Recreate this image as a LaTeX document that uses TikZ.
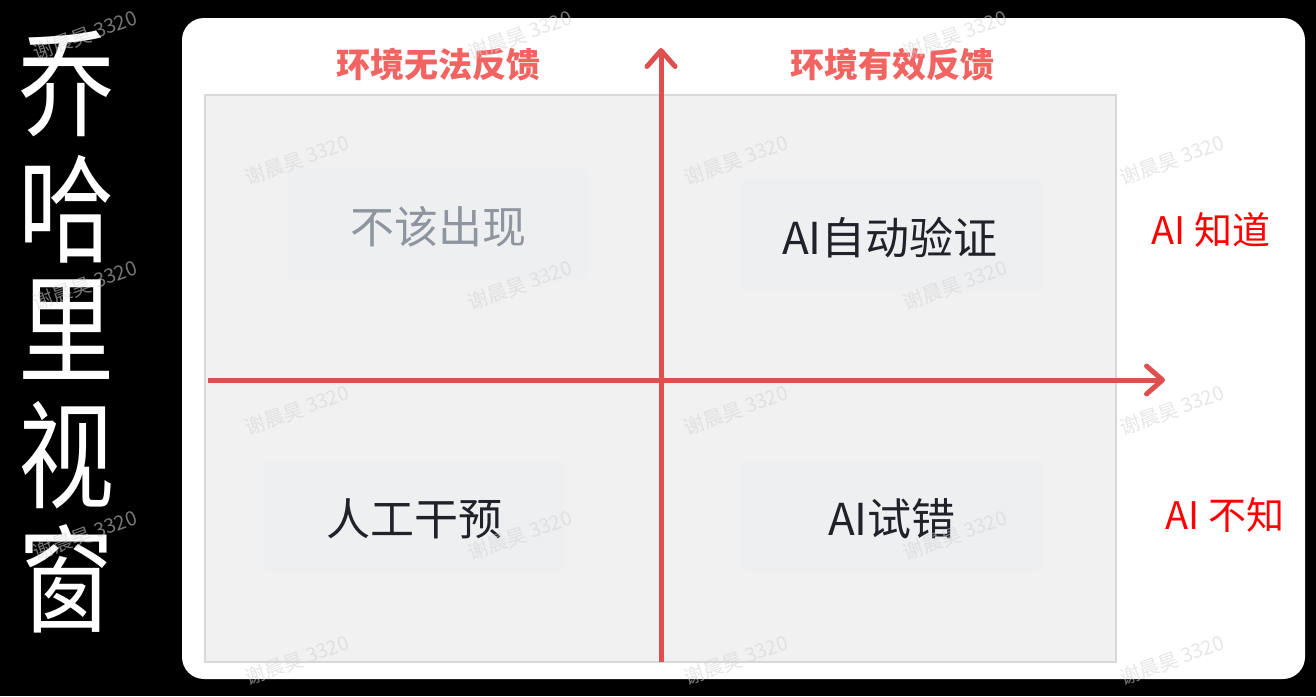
\documentclass[tikz,border=0pt]{standalone}
\usepackage{fontspec}
\usepackage{graphicx}
\newfontfamily\cjk{Noto Sans CJK SC}
\usetikzlibrary{arrows.meta}
\definecolor{axisred}{HTML}{DE5050}
\definecolor{headred}{HTML}{F26461}
\definecolor{labelred}{HTML}{FF0000}
\definecolor{panelgray}{HTML}{F1F1F1}
\definecolor{panelline}{HTML}{D8D8D8}
\definecolor{cellgray}{HTML}{EEEFF1}
\definecolor{inkdark}{HTML}{1F2329}
\definecolor{inkmuted}{HTML}{8F959E}
\definecolor{markgray}{HTML}{D4D4D4}
\newcommand{\tallglyph}[1]{\scalebox{1}[1.22]{#1}}
\tikzset{
  cell/.style={fill=cellgray, rounded corners=8pt, minimum width=300pt,
    minimum height=112pt, inner sep=0pt},
  celltext/.style={text=inkdark, inner sep=0pt,
    font=\cjk\fontsize{44}{44}\selectfont},
  header/.style={text=headred, inner sep=0pt, font=\cjk\bfseries\fontsize{34}{34}\selectfont},
  sidelabel/.style={text=labelred, inner sep=0pt, font=\cjk\fontsize{38}{38}\selectfont},
  titlechar/.style={text=white, inner sep=0pt, font=\cjk\fontsize{96}{96}\selectfont},
  stamp/.style={text=markgray, opacity=0.55, rotate=20, inner sep=0pt,
    font=\cjk\fontsize{20}{20}\selectfont},
  axis/.style={draw=axisred, line width=5pt,
    -{Straight Barb[length=16pt, width=28pt, line width=5pt, round]}}
}
\begin{document}
\begin{tikzpicture}[x=1pt, y=-1pt]
  % page and card
  \useasboundingbox (0,0) rectangle (1316,696);
  \fill[black] (0,0) rectangle (1316,696);
  \fill[white, rounded corners=22pt] (182,18) rectangle (1305,679);
  \filldraw[fill=panelgray, draw=panelline, line width=2pt] (205,95) rectangle (1116,662);

  % title on the left, one character per row
  \node[titlechar] (t1) at (66,84)  {\tallglyph{乔}};
  \node[titlechar] (t2) at (66,209) {\tallglyph{哈}};
  \node[titlechar] (t3) at (66,330) {\tallglyph{里}};
  \node[titlechar] (t4) at (66,455) {\tallglyph{视}};
  \node[titlechar] (t5) at (66,579) {\tallglyph{窗}};

  % quadrant cells and their captions
  \node[cell] (tl) at (438,224) {};
  \node[cell] (tr) at (892,234) {};
  \node[cell] (bl) at (414,516) {};
  \node[cell] (br) at (892,516) {};
  \node[celltext, text=inkmuted] (tlt) at ([yshift=-3pt]tl.center) {不该出现};
  \node[celltext] (trt) at ([xshift=-2pt, yshift=-4pt]tr.center) {AI自动验证};
  \node[celltext] (blt) at ([yshift=-3pt]bl.center) {人工干预};
  \node[celltext] (brt) at ([yshift=-3pt]br.center) {AI试错};

  % axes
  \coordinate (ybot) at (661,662);
  \coordinate (ytop) at (661,48);
  \coordinate (xleft) at (208,380);
  \coordinate (xright) at (1165,380);
  \draw[axis] (xleft) -- (xright);
  \draw[axis] (ybot) -- (ytop);

  % axis headings
  \node[header] (hl) at (438,65) {环境无法反馈};
  \node[header] (hr) at (892,65) {环境有效反馈};
  \node[sidelabel] (sk) at (1211,230) {AI 知道};
  \node[sidelabel] (su) at (1225,515) {AI 不知};

  % stamped marks
  \foreach \px/\py in {85/35, 520/35, 955/35, 85/285, 520/285, 955/285,
                       85/535, 520/535, 955/535}
    \node[stamp] at (\px,\py) {谢晨昊 3320};
  \foreach \px/\py in {297/160, 736/160, 1172/160, 297/410, 736/410, 1172/410,
                       297/660, 736/660, 1172/660}
    \node[stamp] at (\px,\py) {谢晨昊 3320};
\end{tikzpicture}
\end{document}
